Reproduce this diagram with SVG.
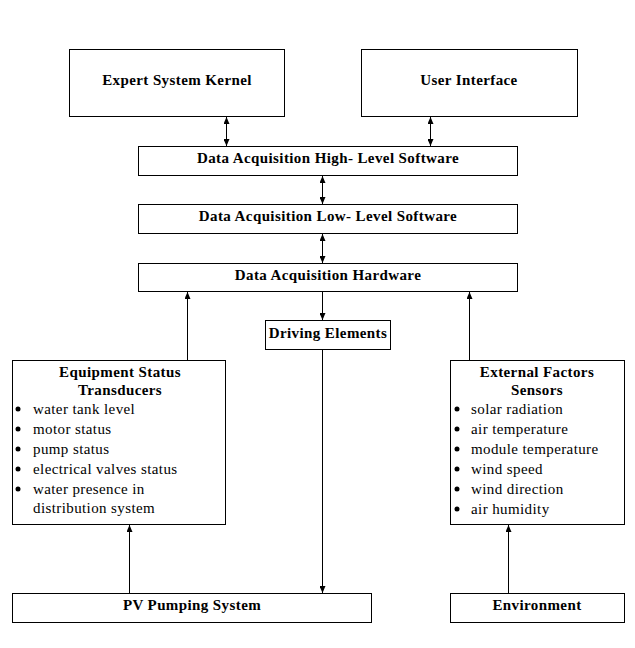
<svg xmlns="http://www.w3.org/2000/svg" width="635" height="648" viewBox="0 0 635 648">
<style>
.box{fill:#fff;stroke:#000;stroke-width:1}
.t{font-size:15px;font-weight:bold;text-anchor:middle;fill:#000;letter-spacing:0.4px}
.i{font-size:15px;fill:#000;letter-spacing:0.4px}
.c{stroke:#000;stroke-width:1;fill:none}
</style>
<defs>
<marker id="ah" viewBox="0 0 7 6" refX="7" refY="3" markerWidth="7" markerHeight="6" markerUnits="userSpaceOnUse" orient="auto-start-reverse">
<path d="M0,0 L7,3 L0,6 Z" fill="#000"/>
</marker>
</defs>
<rect width="635" height="648" fill="#fff"/>
<g id="connectors">
<line class="c" x1="226.5" y1="117" x2="226.5" y2="146" marker-start="url(#ah)" marker-end="url(#ah)"/>
<line class="c" x1="430.5" y1="117" x2="430.5" y2="146" marker-start="url(#ah)" marker-end="url(#ah)"/>
<line class="c" x1="322.5" y1="176" x2="322.5" y2="204" marker-start="url(#ah)" marker-end="url(#ah)"/>
<line class="c" x1="322.5" y1="234" x2="322.5" y2="263" marker-start="url(#ah)" marker-end="url(#ah)"/>
<line class="c" x1="322.5" y1="292" x2="322.5" y2="320" marker-end="url(#ah)"/>
<line class="c" x1="187.5" y1="360" x2="187.5" y2="292" marker-end="url(#ah)"/>
<line class="c" x1="469.5" y1="360" x2="469.5" y2="292" marker-end="url(#ah)"/>
<line class="c" x1="322.5" y1="349" x2="322.5" y2="593" marker-end="url(#ah)"/>
<line class="c" x1="129.5" y1="593" x2="129.5" y2="525" marker-end="url(#ah)"/>
<line class="c" x1="508.5" y1="593" x2="508.5" y2="525" marker-end="url(#ah)"/>
</g>
<g font-family="Liberation Serif, Times New Roman, serif">
<g id="expert"><rect class="box" x="69.5" y="49.5" width="215" height="67"/><text class="t" x="177" y="85">Expert System Kernel</text></g>
<g id="ui"><rect class="box" x="361.5" y="49.5" width="216" height="67"/><text class="t" x="469" y="85">User Interface</text></g>
<g id="high"><rect class="box" x="138.5" y="146.5" width="379" height="29"/><text class="t" x="328" y="163">Data Acquisition High- Level Software</text></g>
<g id="low"><rect class="box" x="138.5" y="204.5" width="379" height="29"/><text class="t" x="328" y="221">Data Acquisition Low- Level Software</text></g>
<g id="hw"><rect class="box" x="138.5" y="263.5" width="379" height="28"/><text class="t" x="328" y="280">Data Acquisition Hardware</text></g>
<g id="driving"><rect class="box" x="265.5" y="320.5" width="125" height="29"/><text class="t" x="328" y="338">Driving Elements</text></g>
<g id="equipment"><rect class="box" x="12.5" y="360.5" width="213" height="164"/>
<text class="t" x="120" y="377">Equipment Status</text>
<text class="t" x="120" y="395">Transducers</text>
<circle cx="18" cy="409" r="2.5"/><text class="i" x="33" y="414">water tank level</text>
<circle cx="18" cy="429" r="2.5"/><text class="i" x="33" y="434">motor status</text>
<circle cx="18" cy="449" r="2.5"/><text class="i" x="33" y="454">pump status</text>
<circle cx="18" cy="469" r="2.5"/><text class="i" x="33" y="474">electrical valves status</text>
<circle cx="18" cy="489" r="2.5"/><text class="i" x="33" y="494">water presence in</text>
<text class="i" x="33" y="513">distribution system</text>
</g>
<g id="external"><rect class="box" x="450.5" y="360.5" width="174" height="164"/>
<text class="t" x="537" y="377">External Factors</text>
<text class="t" x="537" y="395">Sensors</text>
<circle cx="457" cy="409" r="2.5"/><text class="i" x="471" y="414">solar radiation</text>
<circle cx="457" cy="429" r="2.5"/><text class="i" x="471" y="434">air temperature</text>
<circle cx="457" cy="449" r="2.5"/><text class="i" x="471" y="454">module temperature</text>
<circle cx="457" cy="469" r="2.5"/><text class="i" x="471" y="474">wind speed</text>
<circle cx="457" cy="489" r="2.5"/><text class="i" x="471" y="494">wind direction</text>
<circle cx="457" cy="509" r="2.5"/><text class="i" x="471" y="514">air humidity</text>
</g>
<g id="pv"><rect class="box" x="12.5" y="593.5" width="359" height="29"/><text class="t" x="192" y="610">PV Pumping System</text></g>
<g id="env"><rect class="box" x="450.5" y="593.5" width="174" height="29"/><text class="t" x="537" y="610">Environment</text></g>
</g>
</svg>
